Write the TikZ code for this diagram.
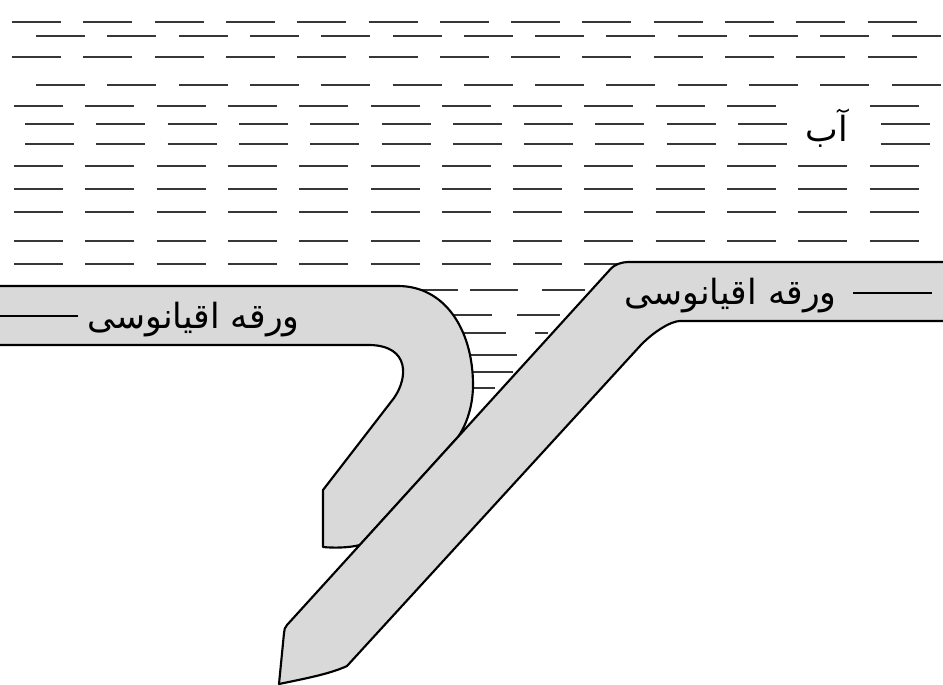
\documentclass[tikz,border=0pt]{standalone}
\usepackage{fontspec}
\usetikzlibrary{calc}
\newfontfamily\arabicfont[Script=Arabic]{DejaVu Sans}
\TeXXeTstate=1
\definecolor{platefill}{RGB}{217,217,217}
\definecolor{waterline}{RGB}{55,55,55}
\begin{document}
\begin{tikzpicture}[x=0.75pt,y=-0.75pt,
  water/.style={draw=waterline, line width=2.2pt},
  plate/.style={draw=black, line width=1.6pt, fill=platefill, line join=round},
  label/.style={font=\arabicfont\fontsize{26}{30}\selectfont, inner sep=0pt},
  leader/.style={draw=black, line width=1.6pt}]
\useasboundingbox (0,0) rectangle (943,685);
\fill[white] (0,0) rectangle (943,685);

% water: rows of short dashes (y, first x, index left out for the label)
\foreach \rowy/\rowx/\rowgap in {22/12/99, 36/36/99, 57/12/99, 85/36/99,
    106/14/11, 124/25/11, 144/25/11, 166/14/99, 189/14/99, 212/14/99,
    241/14/99, 264/14/99} {
  \foreach \kk in {0,...,12} {
    \ifnum\kk=\rowgap\relax\else
      \draw[water] (\rowx+\kk*71.3,\rowy) -- (\rowx+\kk*71.3+49,\rowy);
    \fi
  }
}

% water trapped between the two plates
\draw[water] (405,290) -- (458,290);
\draw[water] (470,290) -- (518,290);
\draw[water] (542,290) -- (585,290);
\draw[water] (440,315) -- (492,315);
\draw[water] (517,315) -- (560,315);
\draw[water] (455,333) -- (506,333);
\draw[water] (535,333) -- (548,333);
\draw[water] (460,355) -- (517,355);
\draw[water] (465,372) -- (513,372);
\draw[water] (465,388) -- (495,388);

% left oceanic plate, folded back under itself
\draw[plate] (-10,345) -- (370,345)
  .. controls (410,346) and (408,378) .. (394,398)
  -- (323,490) -- (323,547)
  .. controls (333,548) and (348,548) .. (360,545)
  -- (458,437)
  .. controls (467,424) and (473,405) .. (473,385)
  .. controls (473,330) and (445,286) .. (398,286)
  -- (-10,286);

% right oceanic plate, sinking to the lower left
\draw[plate] (950,262) -- (628,262)
  .. controls (622,262) and (614.5,264.7) .. (611.5,268)
  -- (287,625)
  .. controls (285,627) and (284,630) .. (284,633)
  -- (279,684)
  .. controls (303,679) and (330,674) .. (347,666)
  -- (640,346)
  .. controls (653,332) and (671,321) .. (680,321)
  -- (950,321);

% labels
\node[label, anchor=west] (leftlabel) at (87,320) {\beginR ورقه اقیانوسی\endR};
\node[label, anchor=east] (rightlabel) at (837,296) {\beginR ورقه اقیانوسی\endR};
\node[label] (waterlabel) at (827,128) {\beginR آب\endR};

% leader lines
\coordinate (leftend) at (0,316);
\coordinate (rightend) at (932,293);
\draw[leader] (leftend) -- ($(leftlabel.west |- leftend)+(-9,0)$);
\draw[leader] ($(rightlabel.east |- rightend)+(16,0)$) -- (rightend);
\end{tikzpicture}
\end{document}
